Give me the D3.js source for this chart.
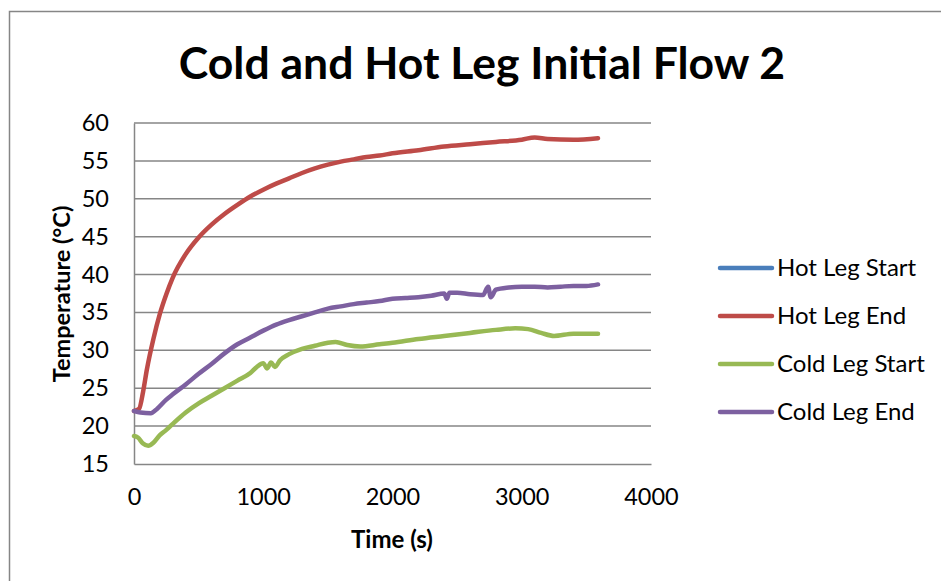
<!DOCTYPE html>
<html><head><meta charset="utf-8">
<script src="https://cdn.jsdelivr.net/npm/d3@7"></script>
<style>body{margin:0;background:#fff;} svg{display:block;} text{font-family:Lato,"Open Sans",sans-serif;}</style>
</head><body>
<svg id="c" width="941" height="581"></svg>
<script>
const title = "Cold and Hot Leg Initial Flow 2";
const xLabel = "Time (s)";
const yLabel = "Temperature (°C)";
const xTicks = [0, 1000, 2000, 3000, 4000];
const yTicks = [15, 20, 25, 30, 35, 40, 45, 50, 55, 60];
const seriesNames = ["Hot Leg Start", "Hot Leg End", "Cold Leg Start", "Cold Leg End"];
const seriesColors = ["#4a7ebb", "#be4b48", "#98b954", "#7d60a0"];

const hotStartTime = [];
const hotStartTemp = [];

const hotEndTime = [0,40,70,100,150,200,250,300,400,500,600,700,800,900,1000,1100,1200,1300,1400,1500,1600,1700,1800,1900,2000,2200,2400,2600,2800,3000,3100,3200,3400,3590];
const hotEndTemp = [22.0,22.3,24.5,27.5,31.5,34.8,37.4,39.6,42.7,44.9,46.6,48.0,49.2,50.3,51.2,52.0,52.7,53.4,54.0,54.5,54.9,55.2,55.5,55.7,56.0,56.4,56.9,57.2,57.5,57.8,58.1,57.9,57.8,58.0];

const coldStartTime = [0,30,70,110,150,200,250,300,400,500,600,700,800,900,950,1000,1030,1060,1090,1130,1200,1300,1400,1500,1560,1650,1750,1900,2000,2200,2400,2600,2800,2950,3050,3150,3250,3400,3590];
const coldStartTemp = [18.7,18.5,17.7,17.4,17.8,18.8,19.5,20.3,21.8,23.0,24.0,25.0,26.0,27.0,27.8,28.3,27.6,28.4,27.8,28.7,29.5,30.2,30.6,31.0,31.1,30.7,30.5,30.8,31.0,31.5,31.9,32.3,32.7,32.9,32.8,32.3,31.9,32.2,32.2];

const coldEndTime = [0,50,130,180,250,300,400,500,600,700,800,900,1000,1100,1200,1300,1400,1500,1600,1700,1800,1900,2000,2100,2200,2300,2400,2420,2440,2500,2600,2700,2740,2760,2800,2900,3000,3100,3200,3300,3400,3500,3590];
const coldEndTemp = [22.0,21.8,21.7,22.3,23.5,24.2,25.5,26.9,28.2,29.6,30.8,31.7,32.6,33.4,34.0,34.5,35.0,35.5,35.8,36.1,36.3,36.5,36.8,36.9,37.0,37.2,37.5,36.8,37.6,37.6,37.4,37.3,38.4,37.0,38.0,38.3,38.4,38.4,38.3,38.4,38.5,38.5,38.7];

const series = [
  {name: seriesNames[0], color: seriesColors[0], t: hotStartTime, v: hotStartTemp},
  {name: seriesNames[1], color: seriesColors[1], t: hotEndTime, v: hotEndTemp},
  {name: seriesNames[2], color: seriesColors[2], t: coldStartTime, v: coldStartTemp},
  {name: seriesNames[3], color: seriesColors[3], t: coldEndTime, v: coldEndTemp}
];

const svg = d3.select("#c");
const pL = 134, pR = 651, pT = 123, pB = 464;
const x = d3.scaleLinear().domain([0, 4000]).range([pL, pR]);
const y = d3.scaleLinear().domain([15, 60]).range([pB, pT]);

// chart border
svg.append("rect").attr("x", 9.5).attr("y", 11.5).attr("width", 1000).attr("height", 1000)
  .attr("fill", "none").attr("stroke", "#868686").attr("stroke-width", 1.5);

// gridlines
svg.append("g").selectAll("line").data(yTicks.filter(d => d > 15)).join("line")
  .attr("x1", pL).attr("x2", pR).attr("y1", d => y(d)).attr("y2", d => y(d))
  .attr("stroke", "#868686").attr("stroke-width", 1.5);

// axes
const yAxis = d3.axisLeft(y).tickValues(yTicks).tickSize(0).tickPadding(25).tickFormat(d3.format("d"));
const gy = svg.append("g").attr("transform", `translate(${pL},0)`).call(yAxis);
const xAxis = d3.axisBottom(x).tickValues(xTicks).tickSize(0).tickPadding(24).tickFormat(d3.format("d"));
const gx = svg.append("g").attr("transform", `translate(0,${pB})`).call(xAxis);
[gy, gx].forEach(g => {
  g.select(".domain").attr("stroke", "#868686").attr("stroke-width", 1.5);
  g.selectAll("text").attr("font-size", 23.5).attr("fill", "#000").attr("font-family", "Lato, sans-serif");
});

// lines
const line = d3.line().x(d => x(d[0])).y(d => y(d[1])).curve(d3.curveMonotoneX);
series.forEach(s => {
  const pts = s.t.map((t, i) => [t, s.v[i]]);
  if (!pts.length) return;
  svg.append("path").datum(pts).attr("d", line).attr("fill", "none")
    .attr("stroke", s.color).attr("stroke-width", 4.5).attr("stroke-linejoin", "round").attr("stroke-linecap", "round");
});

// title
svg.append("text").attr("x", 482).attr("y", 79).attr("text-anchor", "middle")
  .attr("font-size", 44.5).attr("font-weight", "bold").attr("fill", "#000").text(title);

// axis titles
svg.append("text").attr("transform", "translate(70,294) rotate(-90)").attr("text-anchor", "middle")
  .attr("font-size", 23.5).attr("font-weight", "bold").attr("fill", "#000").text(yLabel);
svg.append("text").attr("x", 392).attr("y", 548).attr("text-anchor", "middle")
  .attr("font-size", 24).attr("font-weight", "bold").attr("fill", "#000").text(xLabel);

// legend
const legY = [268, 316, 364, 412];
const leg = svg.append("g").selectAll("g").data(series).join("g")
  .attr("transform", (d, i) => `translate(718,${legY[i]})`);
leg.append("line").attr("x1", 2).attr("x2", 54).attr("y1", 0).attr("y2", 0)
  .attr("stroke", d => d.color).attr("stroke-width", 4.5).attr("stroke-linecap", "round");
leg.append("text").attr("x", 59).attr("y", 0).attr("dy", "0.35em").attr("font-size", 24)
  .attr("fill", "#000").text(d => d.name);
</script>
</body></html>
